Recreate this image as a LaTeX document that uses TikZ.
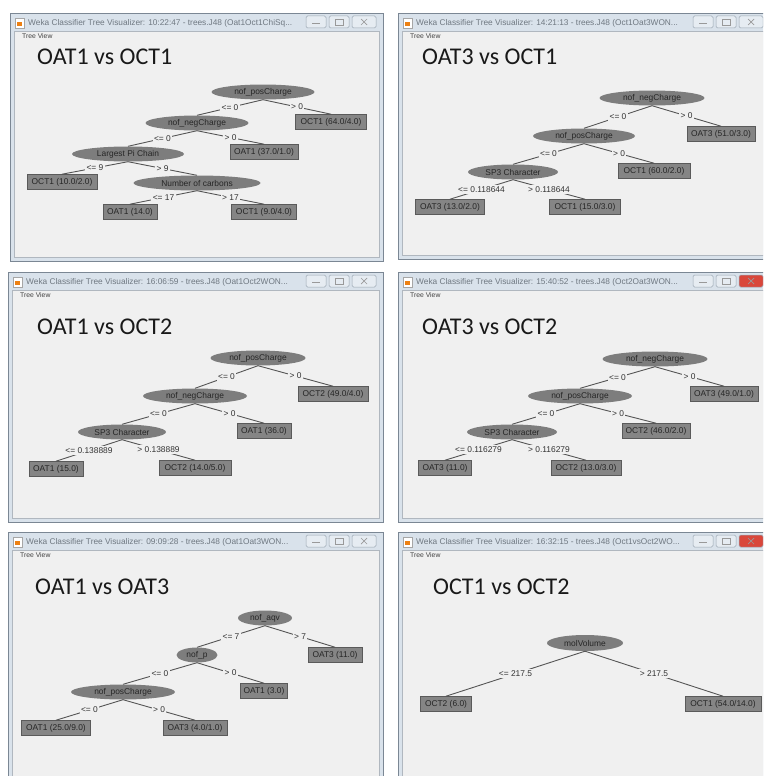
\documentclass[tikz,border=0pt]{standalone}
\usepackage{fontspec}
\setmainfont{Liberation Sans}
\newfontfamily\ttlfont{Carlito}
\usetikzlibrary{shapes.geometric}
\definecolor{clientbg}{HTML}{F0F0F0}
\definecolor{framebg}{HTML}{D9E2EB}
\definecolor{frameline}{HTML}{7B8794}
\definecolor{nodefill}{HTML}{7D7D7D}
\definecolor{leaffill}{HTML}{858585}
\definecolor{leafline}{HTML}{5A5A5A}
\definecolor{edgecol}{HTML}{555555}
\definecolor{ttltxt}{HTML}{6F7881}
\definecolor{btnfill}{HTML}{E6ECF2}
\definecolor{btnline}{HTML}{9AA6B2}
\definecolor{closered}{HTML}{D9473B}
\tikzset{
  inner/.style={ellipse, fill=nodefill, inner sep=0pt, minimum height=15pt,
    font=\fontsize{8.4}{9}\selectfont, text=black!85},
  leaf/.style={rectangle, fill=leaffill, draw=leafline, line width=0.6pt, inner sep=0pt,
    minimum height=15pt, font=\fontsize{8.4}{9}\selectfont, text=black!85},
  lab/.style={fill=clientbg, inner sep=1.5pt, font=\fontsize{8.4}{9}\selectfont, text=black!80},
  edge/.style={draw=edgecol, line width=0.9pt},
  bigtitle/.style={anchor=west, font=\ttlfont\fontsize{24}{26}\selectfont, text=black!90, inner sep=0pt},
  wintitle/.style={anchor=west, font=\fontsize{8.3}{9}\selectfont, text=ttltxt, inner sep=0pt},
  menutext/.style={anchor=west, font=\fontsize{6.8}{7}\selectfont, text=black!75, inner sep=0pt},
}
% #1 x0, #2 y0, #3 x1, #4 y1, #5 title, #6 close-button colour
\newcommand\wekawin[6]{%
  \fill[framebg] (#1,#2) rectangle (#3,#4);
  \draw[frameline, line width=0.8pt] (#1,#2) rectangle (#3,#4);
  \fill[clientbg] ({#1+4},{#2+18}) rectangle ({#3-4},{#4-4});
  \draw[frameline!60, line width=0.5pt] ({#1+4},{#2+18}) rectangle ({#3-4},{#4-4});
  % icon
  \fill[white] ({#1+5},{#2+5}) rectangle ({#1+14},{#2+15});
  \draw[gray!70, line width=0.5pt] ({#1+5},{#2+5}) rectangle ({#1+14},{#2+15});
  \fill[orange!70!brown] ({#1+7},{#2+9}) rectangle ({#1+12},{#2+13});
  \node[wintitle] at ({#1+18},{#2+10}) {#5};
  % buttons
  \draw[btnline, fill=btnfill, rounded corners=1.5pt, line width=0.5pt] ({#3-77},{#2+3}) rectangle ({#3-57},{#2+15});
  \draw[btnline, fill=btnfill, rounded corners=1.5pt, line width=0.5pt] ({#3-54},{#2+3}) rectangle ({#3-34},{#2+15});
  \draw[btnline, fill=#6, rounded corners=1.5pt, line width=0.5pt] ({#3-31},{#2+3}) rectangle ({#3-7},{#2+15});
  \draw[gray!80, line width=0.8pt] ({#3-71},{#2+10}) -- ({#3-63},{#2+10});
  \draw[gray!80, line width=0.6pt] ({#3-48},{#2+6}) rectangle ({#3-40},{#2+12});
  \draw[gray!80, line width=0.7pt] ({#3-22},{#2+6}) -- ({#3-16},{#2+12}) ({#3-22},{#2+12}) -- ({#3-16},{#2+6});
  \node[menutext] at ({#1+12},{#2+23}) {Tree View};
}
\begin{document}
\begin{tikzpicture}[x=1pt, y=-1pt]
\useasboundingbox (0,0) rectangle (763,776);
\fill[white] (0,0) rectangle (763,776);
\clip (0,0) rectangle (763,776);

% ---------- windows ----------
\wekawin{10}{13}{383}{261}{Weka Classifier Tree Visualizer: 10:22:47 - trees.J48 (Oat1Oct1ChiSq...}{btnfill}
\wekawin{398}{13}{770}{259}{Weka Classifier Tree Visualizer: 14:21:13 - trees.J48 (Oct1Oat3WON...}{btnfill}
\wekawin{8}{272}{383}{522}{Weka Classifier Tree Visualizer: 16:06:59 - trees.J48 (Oat1Oct2WON...}{btnfill}
\wekawin{398}{272}{770}{522}{Weka Classifier Tree Visualizer: 15:40:52 - trees.J48 (Oct2Oat3WON...}{closered}
\wekawin{8}{532}{383}{790}{Weka Classifier Tree Visualizer: 09:09:28 - trees.J48 (Oat1Oat3WON...}{btnfill}
\wekawin{398}{532}{770}{790}{Weka Classifier Tree Visualizer: 16:32:15 - trees.J48 (Oct1vsOct2WO...}{closered}

% ---------- panel 1 ----------
\node[bigtitle] (t1) at (37,57) {OAT1 vs OCT1};
\node[inner, minimum width=103pt] (a1) at (263,92) {nof\_posCharge};
\node[leaf, minimum width=71pt] (a2) at (331,122) {OCT1 (64.0/4.0)};
\node[inner, minimum width=103pt] (a3) at (197,123) {nof\_negCharge};
\node[leaf, minimum width=68pt] (a4) at (264,152) {OAT1 (37.0/1.0)};
\node[inner, minimum width=112pt] (a5) at (128,154) {Largest Pi Chain};
\node[leaf, minimum width=70pt] (a6) at (62,182) {OCT1 (10.0/2.0)};
\node[inner, minimum width=127pt] (a7) at (197,183) {Number of carbons};
\node[leaf, minimum width=54pt] (a8) at (130,212) {OAT1 (14.0)};
\node[leaf, minimum width=65pt] (a9) at (264,212) {OCT1 (9.0/4.0)};
\draw[edge] (a1.south) -- node[lab]{<= 0} (a3.north);
\draw[edge] (a1.south) -- node[lab]{> 0} (a2.north);
\draw[edge] (a3.south) -- node[lab]{<= 0} (a5.north);
\draw[edge] (a3.south) -- node[lab]{> 0} (a4.north);
\draw[edge] (a5.south) -- node[lab]{<= 9} (a6.north);
\draw[edge] (a5.south) -- node[lab]{> 9} (a7.north);
\draw[edge] (a7.south) -- node[lab]{<= 17} (a8.north);
\draw[edge] (a7.south) -- node[lab]{> 17} (a9.north);

% ---------- panel 2 ----------
\node[bigtitle] (t2) at (422,57) {OAT3 vs OCT1};
\node[inner, minimum width=105pt] (b1) at (652,98) {nof\_negCharge};
\node[leaf, minimum width=68pt] (b2) at (721,134) {OAT3 (51.0/3.0)};
\node[inner, minimum width=102pt] (b3) at (584,136) {nof\_posCharge};
\node[leaf, minimum width=72pt] (b4) at (654,171) {OCT1 (60.0/2.0)};
\node[inner, minimum width=90pt] (b5) at (513,172) {SP3 Character};
\node[leaf, minimum width=69pt] (b6) at (450,207) {OAT3 (13.0/2.0)};
\node[leaf, minimum width=71pt] (b7) at (585,207) {OCT1 (15.0/3.0)};
\draw[edge] (b1.south) -- node[lab]{<= 0} (b3.north);
\draw[edge] (b1.south) -- node[lab]{> 0} (b2.north);
\draw[edge] (b3.south) -- node[lab]{<= 0} (b5.north);
\draw[edge] (b3.south) -- node[lab]{> 0} (b4.north);
\draw[edge] (b5.south) -- node[lab]{<= 0.118644} (b6.north);
\draw[edge] (b5.south) -- node[lab]{> 0.118644} (b7.north);

% ---------- panel 3 ----------
\node[bigtitle] (t3) at (37,327) {OAT1 vs OCT2};
\node[inner, minimum width=95pt] (c1) at (258,358) {nof\_posCharge};
\node[leaf, minimum width=70pt] (c2) at (333,394) {OCT2 (49.0/4.0)};
\node[inner, minimum width=104pt] (c3) at (195,396) {nof\_negCharge};
\node[leaf, minimum width=54pt] (c4) at (264,431) {OAT1 (36.0)};
\node[inner, minimum width=88pt] (c5) at (122,432) {SP3 Character};
\node[leaf, minimum width=54pt] (c6) at (56,469) {OAT1 (15.0)};
\node[leaf, minimum width=72pt] (c7) at (195,468) {OCT2 (14.0/5.0)};
\draw[edge] (c1.south) -- node[lab]{<= 0} (c3.north);
\draw[edge] (c1.south) -- node[lab]{> 0} (c2.north);
\draw[edge] (c3.south) -- node[lab]{<= 0} (c5.north);
\draw[edge] (c3.south) -- node[lab]{> 0} (c4.north);
\draw[edge] (c5.south) -- node[lab]{<= 0.138889} (c6.north);
\draw[edge] (c5.south) -- node[lab]{> 0.138889} (c7.north);

% ---------- panel 4 ----------
\node[bigtitle] (t4) at (422,327) {OAT3 vs OCT2};
\node[inner, minimum width=105pt] (d1) at (655,359) {nof\_negCharge};
\node[leaf, minimum width=68pt] (d2) at (724,394) {OAT3 (49.0/1.0)};
\node[inner, minimum width=104pt] (d3) at (580,396) {nof\_posCharge};
\node[leaf, minimum width=68pt] (d4) at (656,431) {OCT2 (46.0/2.0)};
\node[inner, minimum width=90pt] (d5) at (512,432) {SP3 Character};
\node[leaf, minimum width=53pt] (d6) at (445,468) {OAT3 (11.0)};
\node[leaf, minimum width=70pt] (d7) at (586,468) {OCT2 (13.0/3.0)};
\draw[edge] (d1.south) -- node[lab]{<= 0} (d3.north);
\draw[edge] (d1.south) -- node[lab]{> 0} (d2.north);
\draw[edge] (d3.south) -- node[lab]{<= 0} (d5.north);
\draw[edge] (d3.south) -- node[lab]{> 0} (d4.north);
\draw[edge] (d5.south) -- node[lab]{<= 0.116279} (d6.north);
\draw[edge] (d5.south) -- node[lab]{> 0.116279} (d7.north);

% ---------- panel 5 ----------
\node[bigtitle] (t5) at (35,587) {OAT1 vs OAT3};
\node[inner, minimum width=54pt] (e1) at (265,618) {nof\_aqv};
\node[leaf, minimum width=54pt] (e2) at (335,655) {OAT3 (11.0)};
\node[inner, minimum width=41pt] (e3) at (197,655) {nof\_p};
\node[leaf, minimum width=47pt] (e4) at (264,691) {OAT1 (3.0)};
\node[inner, minimum width=104pt] (e5) at (123,692) {nof\_posCharge};
\node[leaf, minimum width=69pt] (e6) at (56,728) {OAT1 (25.0/9.0)};
\node[leaf, minimum width=64pt] (e7) at (195,728) {OAT3 (4.0/1.0)};
\draw[edge] (e1.south) -- node[lab]{<= 7} (e3.north);
\draw[edge] (e1.south) -- node[lab]{> 7} (e2.north);
\draw[edge] (e3.south) -- node[lab]{<= 0} (e5.north);
\draw[edge] (e3.south) -- node[lab]{> 0} (e4.north);
\draw[edge] (e5.south) -- node[lab]{<= 0} (e6.north);
\draw[edge] (e5.south) -- node[lab]{> 0} (e7.north);

% ---------- panel 6 ----------
\node[bigtitle] (t6) at (433,587) {OCT1 vs OCT2};
\node[inner, minimum width=76pt, minimum height=16pt] (f1) at (585,643) {molVolume};
\node[leaf, minimum width=51pt] (f2) at (446,704) {OCT2 (6.0)};
\node[leaf, minimum width=76pt] (f3) at (723,704) {OCT1 (54.0/14.0)};
\draw[edge] (f1.south) -- node[lab]{<= 217.5} (f2.north);
\draw[edge] (f1.south) -- node[lab]{> 217.5} (f3.north);
\end{tikzpicture}
\end{document}
